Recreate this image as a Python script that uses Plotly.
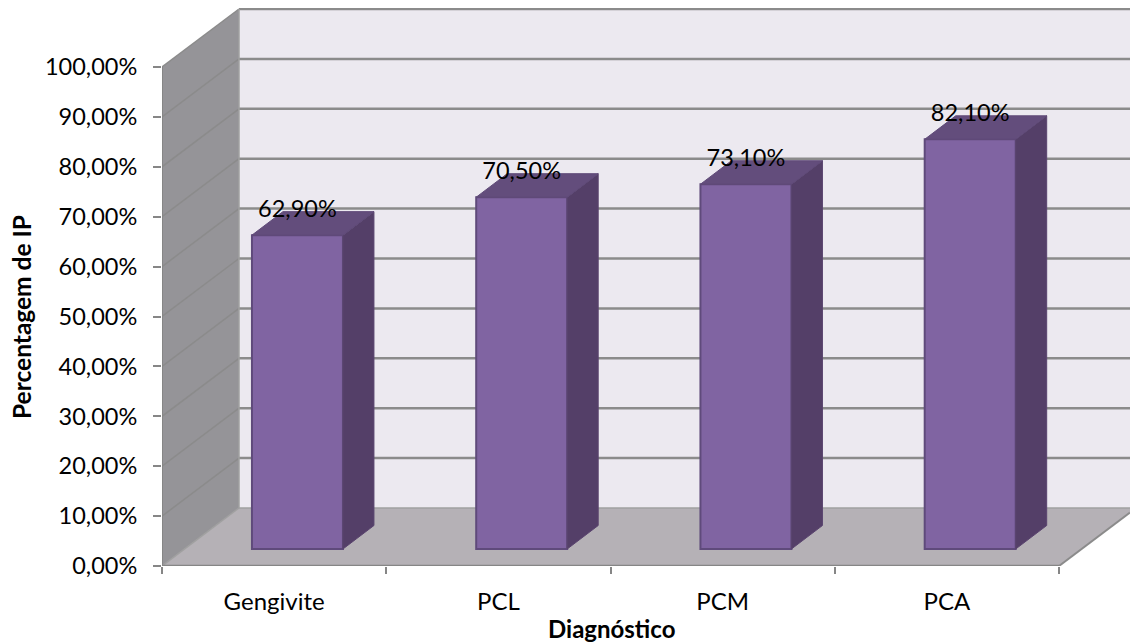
import plotly.graph_objects as go

categories = ["Gengivite", "PCL", "PCM", "PCA"]
values = [62.9, 70.5, 73.1, 82.1]
labels = ["62,90%", "70,50%", "73,10%", "82,10%"]
y_ticks = [0, 10, 20, 30, 40, 50, 60, 70, 80, 90, 100]
y_tick_labels = ["0,00%", "10,00%", "20,00%", "30,00%", "40,00%", "50,00%",
                 "60,00%", "70,00%", "80,00%", "90,00%", "100,00%"]

# pixel geometry of the oblique projection, converted to data units
W, H = 1130, 643
L, T, B = 162, 8, 77
UX = (1059 - 162) / 4
UY = 4.99
XMAX = (W - L) / UX
YMAX = (H - B - T) / UY
DX, DY = 77 / UX, 58 / UY          # wall depth
BDX, BDY = 31 / UX, 23.5 / UY      # bar depth
BW = 91 / UX                       # bar width
XSHIFT, BASE = 0.104, 17 / UY      # bar offset from the front plane

FONT = "Lato, Carlito, Calibri, sans-serif"
TXT = "#000000"
GRID = "#8B8B8B"
AXIS = "#868686"


def poly(pts):
    return "M" + " L".join(f"{x},{y}" for x, y in pts) + " Z"


shapes = []
def add_poly(pts, fill, line=None, w=0):
    shapes.append(dict(type="path", path=poly(pts), fillcolor=fill, layer="below", xref="x", yref="y",
                       line=dict(color=line or fill, width=w)))
def add_line(pts, color, w):
    for (x0, y0), (x1, y1) in zip(pts, pts[1:]):
        shapes.append(dict(type="line", x0=x0, y0=y0, x1=x1, y1=y1, layer="below", xref="x", yref="y",
                           line=dict(color=color, width=w)))

# walls and floor
add_poly([(DX, DY), (DX, 100 + DY), (XMAX, 100 + DY), (XMAX, DY)], "#ECE9F0")
add_poly([(0, 0), (0, 100), (DX, 100 + DY), (DX, DY)], "#959498")
floor_end = (XMAX - 4) * DY / DX
add_poly([(0, 0), (DX, DY), (XMAX, DY), (XMAX, floor_end), (4, 0)], "#B5B1B6")

# gridlines: slanted on the side wall, then across the back wall
for v in y_ticks[1:]:
    add_line([(0, v), (DX, v + DY)], GRID, 1.5)
    add_line([(DX, v + DY), (XMAX, v + DY)], GRID, 2.5)
add_line([(0, 0), (DX, DY)], "#A0A0A0", 1.5)
add_line([(DX, DY), (XMAX, DY)], "#A0A0A0", 1.5)
add_line([(DX, DY), (DX, 100 + DY)], "#A0A0A0", 1.5)
add_line([(4, 0), (XMAX, floor_end)], GRID, 2)
add_line([(0, 0), (0, 100)], AXIS, 2)
add_line([(0, 0), (4, 0)], AXIS, 2.5)

xc = [i + 0.5 for i in range(len(categories))]
xb = [c + XSHIFT for c in xc]

fig = go.Figure()
fig.add_bar(x=xb, y=values, base=BASE, width=BW, showlegend=False,
            marker=dict(color="#8064A2", line=dict(color="#5F4A7B", width=2)))

for x, v in zip(xb, values):
    x0, x1 = x - BW / 2, x + BW / 2
    top = v + BASE
    fig.add_scatter(x=[x1, x1 + BDX, x1 + BDX, x1, x1], y=[BASE, BASE + BDY, top + BDY, top, BASE],
                    mode="lines", fill="toself", fillcolor="#543F68", line=dict(color="#5A446F", width=1),
                    showlegend=False, hoverinfo="skip")
    fig.add_scatter(x=[x0, x1, x1 + BDX, x0 + BDX, x0], y=[top, top, top + BDY, top + BDY, top],
                    mode="lines", fill="toself", fillcolor="#634D7C", line=dict(color="#5F4A78", width=1),
                    showlegend=False, hoverinfo="skip")

fig.add_scatter(x=xb, y=[v + BASE + 4.9 for v in values], mode="text", text=labels,
                textposition="middle center", textfont=dict(family=FONT, size=23.5, color=TXT),
                showlegend=False, cliponaxis=False, hoverinfo="skip")

fig.update_layout(
    width=W, height=H, margin=dict(l=L, r=0, t=T, b=B, autoexpand=False),
    paper_bgcolor="white", plot_bgcolor="white", shapes=shapes, showlegend=False,
    font=dict(family=FONT, size=23.5, color=TXT),
    xaxis=dict(range=[0, XMAX], tickvals=xc, ticktext=categories, ticks="", showgrid=False, zeroline=False,
               showline=False, ticklabelstandoff=19, tickfont=dict(family=FONT, size=24, color=TXT),
               minor=dict(tickvals=[0, 1, 2, 3, 4], ticks="outside", ticklen=7, tickwidth=1.5, tickcolor=AXIS,
                          showgrid=False)),
    yaxis=dict(range=[0, YMAX], tickvals=y_ticks, ticktext=y_tick_labels, ticks="outside", ticklen=8,
               tickwidth=1.5, tickcolor=AXIS, showgrid=False, zeroline=False, showline=False,
               ticklabelstandoff=11, tickfont=dict(family=FONT, size=23.5, color=TXT)),
    annotations=[
        dict(text="<b>Diagnóstico</b>", xref="paper", yref="paper", x=(611 - L) / (W - L),
             y=-(628 - (H - B)) / (H - B - T), xanchor="center", yanchor="middle", showarrow=False,
             font=dict(family=FONT, size=24, color=TXT)),
        dict(text="<b>Percentagem de IP</b>", xref="paper", yref="paper", x=-(162 - 21) / (W - L),
             y=(H - B - 317) / (H - B - T), xanchor="center", yanchor="middle", textangle=-90, showarrow=False,
             font=dict(family=FONT, size=24.5, color=TXT)),
    ],
)

fig.write_html("out.html", config={"displayModeBar": False},
               post_script="document.body.style.margin='0';document.body.style.overflow='hidden';")
